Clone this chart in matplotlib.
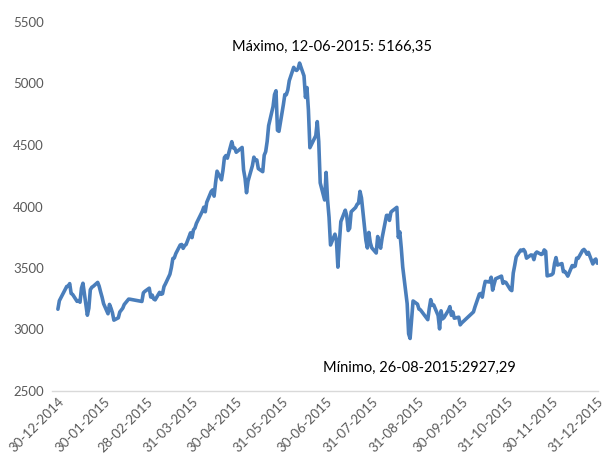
import matplotlib
matplotlib.use("Agg")
import matplotlib.pyplot as plt
import matplotlib.dates as mdates
import pandas as pd

dates = [
 "2014-12-30","2014-12-31","2015-01-05","2015-01-06","2015-01-07","2015-01-08","2015-01-09","2015-01-12","2015-01-13","2015-01-14",
 "2015-01-15","2015-01-16","2015-01-19","2015-01-20","2015-01-21","2015-01-22","2015-01-23","2015-01-26","2015-01-27","2015-01-28",
 "2015-01-29","2015-01-30","2015-02-02","2015-02-03","2015-02-04","2015-02-05","2015-02-06","2015-02-09","2015-02-10","2015-02-11",
 "2015-02-12","2015-02-13","2015-02-16","2015-02-17","2015-02-25","2015-02-26","2015-02-27","2015-03-02","2015-03-03","2015-03-04",
 "2015-03-05","2015-03-06","2015-03-09","2015-03-10","2015-03-11","2015-03-12","2015-03-13","2015-03-16","2015-03-17","2015-03-18",
 "2015-03-19","2015-03-20","2015-03-23","2015-03-24","2015-03-25","2015-03-26","2015-03-27","2015-03-30","2015-03-31","2015-04-01",
 "2015-04-02","2015-04-03","2015-04-07","2015-04-08","2015-04-09","2015-04-10","2015-04-13","2015-04-14","2015-04-15","2015-04-16",
 "2015-04-17","2015-04-20","2015-04-21","2015-04-22","2015-04-23","2015-04-24","2015-04-27","2015-04-28","2015-04-29","2015-04-30",
 "2015-05-04","2015-05-05","2015-05-06","2015-05-07","2015-05-08","2015-05-11","2015-05-12","2015-05-13","2015-05-14","2015-05-15",
 "2015-05-18","2015-05-19","2015-05-20","2015-05-21","2015-05-22","2015-05-25","2015-05-26","2015-05-27","2015-05-28","2015-05-29",
 "2015-06-01","2015-06-02","2015-06-03","2015-06-04","2015-06-05","2015-06-08","2015-06-09","2015-06-10","2015-06-11","2015-06-12",
 "2015-06-15","2015-06-16","2015-06-17","2015-06-18","2015-06-19","2015-06-23","2015-06-24","2015-06-25","2015-06-26","2015-06-29",
 "2015-06-30","2015-07-01","2015-07-02","2015-07-03","2015-07-06","2015-07-07","2015-07-08","2015-07-09","2015-07-10","2015-07-13",
 "2015-07-14","2015-07-15","2015-07-16","2015-07-17","2015-07-20","2015-07-21","2015-07-22","2015-07-23","2015-07-24","2015-07-27",
 "2015-07-28","2015-07-29","2015-07-30","2015-07-31","2015-08-03","2015-08-04","2015-08-05","2015-08-06","2015-08-07","2015-08-10",
 "2015-08-11","2015-08-12","2015-08-13","2015-08-14","2015-08-17","2015-08-18","2015-08-19","2015-08-20","2015-08-21","2015-08-24",
 "2015-08-25","2015-08-26","2015-08-27","2015-08-28","2015-08-31","2015-09-01","2015-09-02","2015-09-07","2015-09-08","2015-09-09",
 "2015-09-10","2015-09-11","2015-09-14","2015-09-15","2015-09-16","2015-09-17","2015-09-18","2015-09-21","2015-09-22","2015-09-23",
 "2015-09-24","2015-09-25","2015-09-28","2015-09-29","2015-09-30","2015-10-08","2015-10-09","2015-10-12","2015-10-13","2015-10-14",
 "2015-10-15","2015-10-16","2015-10-19","2015-10-20","2015-10-21","2015-10-22","2015-10-23","2015-10-26","2015-10-27","2015-10-28",
 "2015-10-29","2015-10-30","2015-11-02","2015-11-03","2015-11-04","2015-11-05","2015-11-06","2015-11-09","2015-11-10","2015-11-11",
 "2015-11-12","2015-11-13","2015-11-16","2015-11-17","2015-11-18","2015-11-19","2015-11-20","2015-11-23","2015-11-24","2015-11-25",
 "2015-11-26","2015-11-27","2015-11-30","2015-12-01","2015-12-02","2015-12-03","2015-12-04","2015-12-07","2015-12-08","2015-12-09",
 "2015-12-10","2015-12-11","2015-12-14","2015-12-15","2015-12-16","2015-12-17","2015-12-18","2015-12-21","2015-12-22","2015-12-23",
 "2015-12-24","2015-12-25","2015-12-28","2015-12-29","2015-12-30","2015-12-31",
]
values = [
 3165,3234,3350,3352,3373,3293,3285,3229,3235,3222,
 3336,3376,3116,3173,3323,3343,3351,3383,3352,3305,
 3262,3210,3128,3204,3174,3136,3076,3095,3142,3157,
 3173,3203,3247,3246,3228,3298,3310,3336,3264,3280,
 3248,3241,3302,3286,3291,3349,3372,3449,3503,3577,
 3582,3617,3687,3691,3660,3682,3691,3786,3747,3810,
 3825,3863,3961,3994,3957,4034,4121,4135,4084,4194,
 4287,4217,4293,4398,4414,4393,4527,4476,4476,4441,
 4480,4298,4229,4112,4205,4333,4401,4375,4378,4308,
 4283,4417,4446,4529,4657,4813,4910,4941,4620,4611,
 4828,4910,4909,4947,5023,5131,5113,5106,5121,5166,
 5062,4887,4967,4785,4478,4576,4690,4527,4192,4053,
 4277,4053,3912,3687,3775,3727,3507,3710,3877,3970,
 3924,3805,3823,3957,3992,4017,4026,4123,4070,3725,
 3663,3789,3705,3664,3622,3756,3695,3661,3744,3928,
 3928,3887,3954,3965,3993,3749,3794,3664,3507,3210,
 2965,2927,3084,3232,3206,3166,3160,3080,3170,3243,
 3197,3200,3114,3005,3152,3086,3097,3156,3186,3115,
 3142,3092,3100,3038,3053,3143,3183,3288,3293,3263,
 3338,3391,3386,3425,3320,3369,3412,3429,3434,3375,
 3387,3383,3325,3316,3459,3522,3590,3646,3640,3650,
 3632,3580,3606,3604,3568,3617,3630,3610,3616,3647,
 3635,3436,3445,3456,3537,3585,3524,3536,3470,3472,
 3455,3434,3520,3510,3516,3580,3578,3642,3651,3636,
 3612,3627,3533,3563,3573,3539,
]
tick_dates = ["2014-12-30","2015-01-30","2015-02-28","2015-03-31","2015-04-30","2015-05-31",
              "2015-06-30","2015-07-31","2015-08-31","2015-09-30","2015-10-31","2015-11-30","2015-12-31"]
tick_labels = ["30-12-2014","30-01-2015","28-02-2015","31-03-2015","30-04-2015","31-05-2015",
               "30-06-2015","31-07-2015","31-08-2015","30-09-2015","31-10-2015","30-11-2015","31-12-2015"]
y_ticks = [2500, 3000, 3500, 4000, 4500, 5000, 5500]
max_label = "Máximo, 12-06-2015: 5166,35"
min_label = "Mínimo, 26-08-2015:2927,29"

plt.rcParams['font.family'] = ['Lato', 'DejaVu Sans']

d = pd.to_datetime(dates)
td = pd.to_datetime(tick_dates)

fig = plt.figure(figsize=(6.05, 4.63), dpi=100)
ax = fig.add_axes([52/605, 1-391/463, (598-52)/605, (391-22)/463])
ax.plot(d, values, color='#4A7EBB', lw=2.6, solid_joinstyle='round', solid_capstyle='round')

x0 = mdates.date2num(pd.Timestamp("2014-12-30"))
ax.set_xlim(x0 - 4, x0 + 366.5)
ax.set_ylim(2500, 5500)
ax.set_yticks(y_ticks)
ax.set_yticklabels([str(v) for v in y_ticks], color='#595959', fontsize=9.5)
ax.set_xticks(mdates.date2num(td))
ax.set_xticklabels(tick_labels, rotation=45, ha='right', rotation_mode='anchor',
                   color='#595959', fontsize=9.5)
ax.tick_params(axis='both', length=0)
ax.tick_params(axis='y', pad=6)
ax.tick_params(axis='x', pad=3)
for s in ['top', 'right', 'left']:
    ax.spines[s].set_visible(False)
ax.spines['bottom'].set_color('#D9D9D9')
ax.spines['bottom'].set_linewidth(1)

ax.text(mdates.date2num(pd.Timestamp("2015-07-04")), 5295, max_label,
        ha='center', va='center', fontsize=10.5, color='#000000')
ax.text(mdates.date2num(pd.Timestamp("2015-09-01")), 2690, min_label,
        ha='center', va='center', fontsize=10.5, color='#000000')

fig.savefig("out.png", dpi=100)
